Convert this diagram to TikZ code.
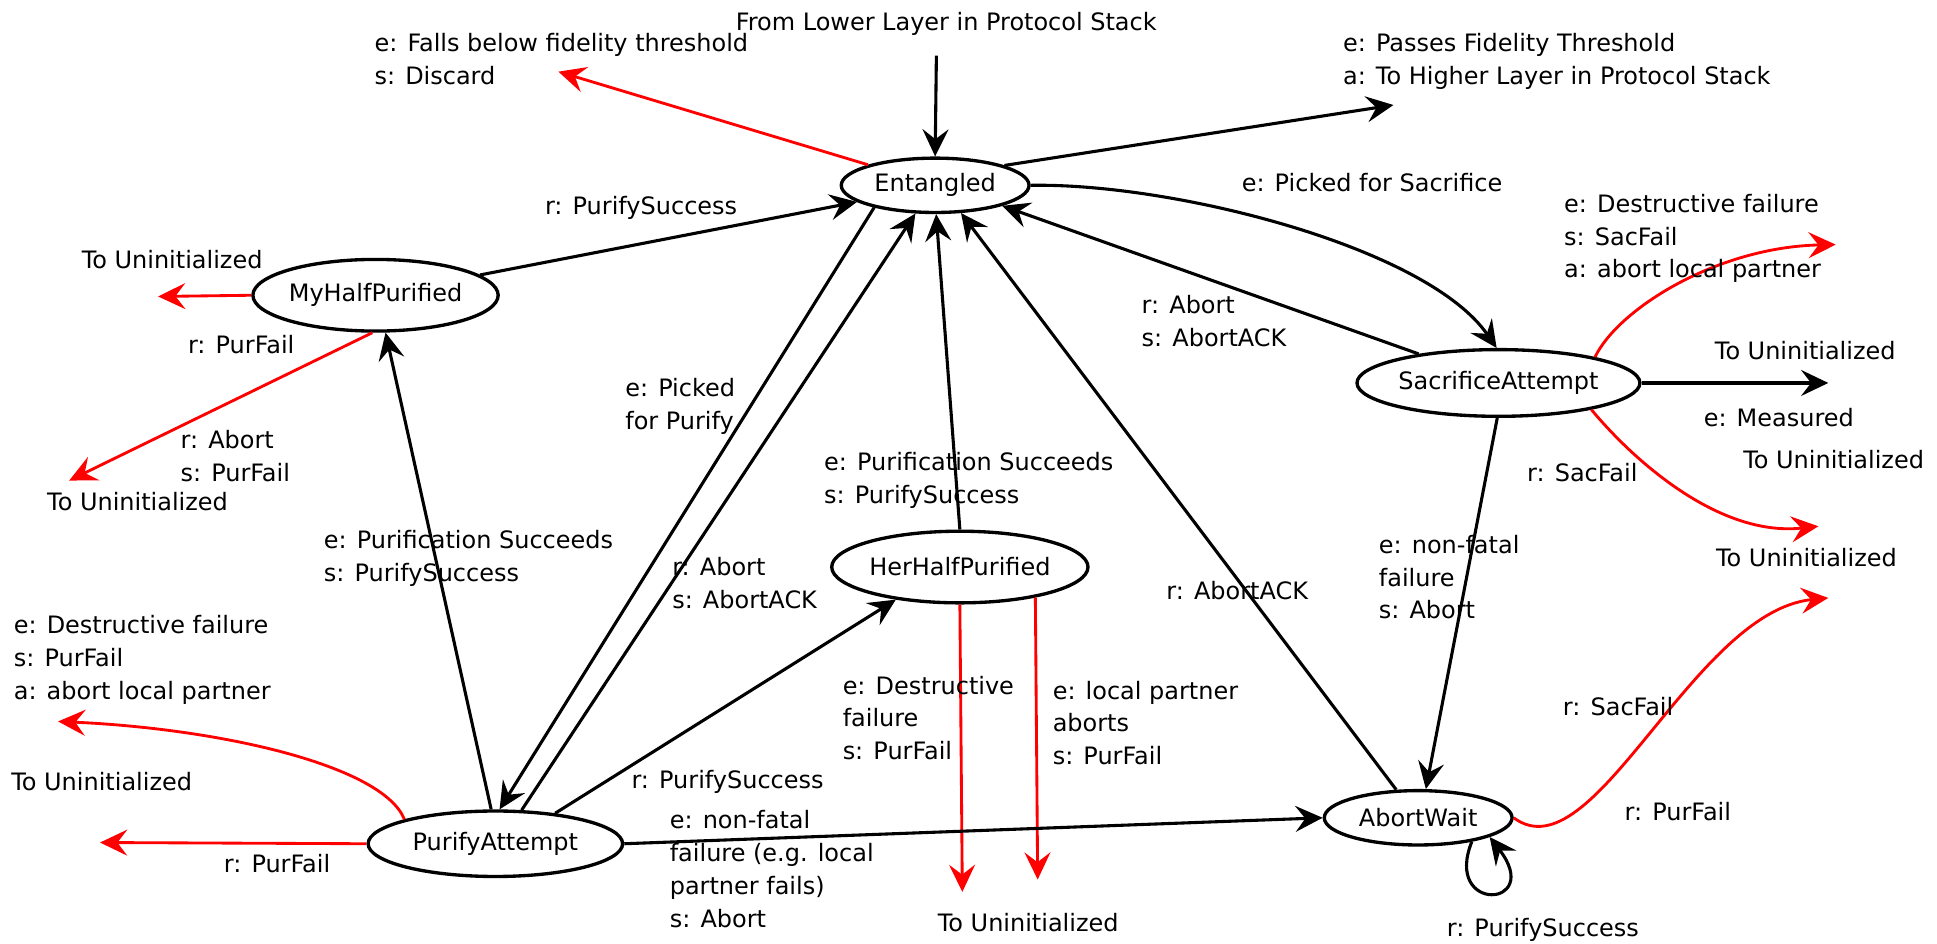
\documentclass[tikz,border=0pt]{standalone}
\usepackage{fontspec}
\setmainfont{DejaVu Sans}
\usetikzlibrary{shapes.geometric,arrows.meta}
\begin{document}
\begin{tikzpicture}[x=1pt,y=-1pt,
  every node/.style={font=\fontsize{19.4}{26.5}\selectfont},
  state/.style={draw, ellipse, line width=2.7pt, inner sep=0pt, fill=white},
  lbl/.style={anchor=north west, align=left, inner sep=0pt},
  tip/.style={-{Stealth[length=22pt,width=21pt,inset=8pt]}},
  blk/.style={draw=black, line width=2.5pt, tip},
  redarr/.style={draw=red, line width=2.3pt, tip},
]
\useasboundingbox (0,0) rectangle (1568,764);

% states
\node[state, minimum width=152pt, minimum height=44pt] (ent) at (757,150) {Entangled};
\node[state, minimum width=186pt, minimum height=58pt] (mhp) at (304,239) {MyHalfPurified};
\node[state, minimum width=205pt, minimum height=54pt] (sa) at (1213,310) {SacrificeAttempt};
\node[state, minimum width=186pt, minimum height=58pt] (hhp) at (777,459) {HerHalfPurified};
\node[state, minimum width=206pt, minimum height=53pt] (pa) at (401,683) {PurifyAttempt};
\node[state, minimum width=152pt, minimum height=44pt] (aw) at (1148,662) {AbortWait};

% free ends
\coordinate (fromtop) at (758,45);
\coordinate (discard) at (452,58);
\coordinate (higher) at (1128,85);
\coordinate (mhpL) at (128,240);
\coordinate (mhpD) at (56,389);
\coordinate (saU) at (1486,198);
\coordinate (saR) at (1480,310);
\coordinate (saD) at (1472,426);
\coordinate (awR) at (1480,484);
\coordinate (hhpL) at (779,722);
\coordinate (hhpR) at (840,712);
\coordinate (paU) at (47,584);
\coordinate (paL) at (81,682);

% connectors
\draw[blk] (fromtop) -- (ent.north);
\draw[redarr] (ent.163) -- (discard);
\draw[blk] (ent.16) -- (higher);
\draw[blk] (mhp.11) -- (ent.192);
\draw[redarr] (mhp.west) -- (mhpL);
\draw[redarr] (mhp.265) -- (mhpD);
\draw[blk] (pa.97) -- (mhp.285);
\draw[blk] (ent.200) -- (pa.83);
\draw[blk] (pa.52) -- (ent.235);
\draw[blk] (pa.27) -- (hhp.207);
\draw[blk] (hhp.north) -- (ent.272);
\draw[blk] (aw.128) -- (ent.313);
\draw[blk] (sa.160) -- (ent.343);
\draw[blk] (ent.east) .. controls (950,148) and (1155,200) .. (sa.93);
\draw[redarr] (sa.15) .. controls (1310,250) and (1390,200) .. (saU);
\draw[blk] (sa.east) -- (saR);
\draw[redarr] (sa.344) .. controls (1320,370) and (1390,435) .. (saD);
\draw[blk] (sa.268) -- (aw.75);
\draw[redarr] (aw.east) .. controls (1290,710) and (1370,495) .. (awR);
\draw[blk] (aw.336) .. controls (1168,740) and (1250,735) .. (aw.345);
\draw[redarr] (hhp.south) -- (hhpL);
\draw[redarr] (hhp.338) -- (hhpR);
\draw[blk] (pa.east) -- (aw.west);
\draw[redarr] (pa.165) .. controls (310,620) and (180,590) .. (paU);
\draw[redarr] (pa.west) -- (paL);

% labels
\node[anchor=north, inner sep=0pt] (t1) at (766,10) {From Lower Layer in Protocol Stack};
\node[lbl] (t2) at (303,27) {e: Falls below fidelity threshold\\s: Discard};
\node[lbl] (t3) at (1087,27) {e: Passes Fidelity Threshold\\a: To Higher Layer in Protocol Stack};
\node[lbl] (t4) at (441,159) {r: PurifySuccess};
\node[lbl] (t5) at (1005,140) {e: Picked for Sacrifice};
\node[lbl] (t6) at (66,202) {To Uninitialized};
\node[lbl] (t7) at (152,271) {r: PurFail};
\node[lbl] (t8) at (146,348) {r: Abort\\s: PurFail};
\node[lbl] (t9) at (38,398) {To Uninitialized};
\node[lbl] (t10) at (506,306) {e: Picked\\for Purify};
\node[lbl] (t11) at (924,239) {r: Abort\\s: AbortACK};
\node[lbl] (t12) at (1266,157) {e: Destructive failure\\s: SacFail\\a: abort local partner};
\node[lbl] (t13) at (1388,276) {To Uninitialized};
\node[lbl] (t14) at (1379,330) {e: Measured};
\node[lbl] (t15) at (1411,364) {To Uninitialized};
\node[lbl] (t16) at (1236,375) {r: SacFail};
\node[lbl] (t17) at (667,366) {e: Purification Succeeds\\s: PurifySuccess};
\node[lbl] (t18) at (262,429) {e: Purification Succeeds\\s: PurifySuccess};
\node[lbl] (t19) at (1116,433) {e: non-fatal\\failure\\s: Abort};
\node[lbl] (t20) at (1389,444) {To Uninitialized};
\node[lbl] (t21) at (544,451) {r: Abort\\s: AbortACK};
\node[lbl] (t22) at (944,470) {r: AbortACK};
\node[lbl] (t23) at (11,498) {e: Destructive failure\\s: PurFail\\a: abort local partner};
\node[lbl] (t24) at (682,547) {e: Destructive\\failure\\s: PurFail};
\node[lbl] (t25) at (852,551) {e: local partner\\aborts\\s: PurFail};
\node[lbl] (t26) at (1265,564) {r: SacFail};
\node[lbl] (t27) at (511,623) {r: PurifySuccess};
\node[lbl] (t28) at (9,625) {To Uninitialized};
\node[lbl] (t29) at (1315,649) {r: PurFail};
\node[lbl] (t30) at (542,656) {e: non-fatal\\failure (e.g. local\\partner fails)\\s: Abort};
\node[lbl] (t31) at (181,691) {r: PurFail};
\node[lbl] (t32) at (759,739) {To Uninitialized};
\node[lbl] (t33) at (1171,743) {r: PurifySuccess};
\end{tikzpicture}
\end{document}
